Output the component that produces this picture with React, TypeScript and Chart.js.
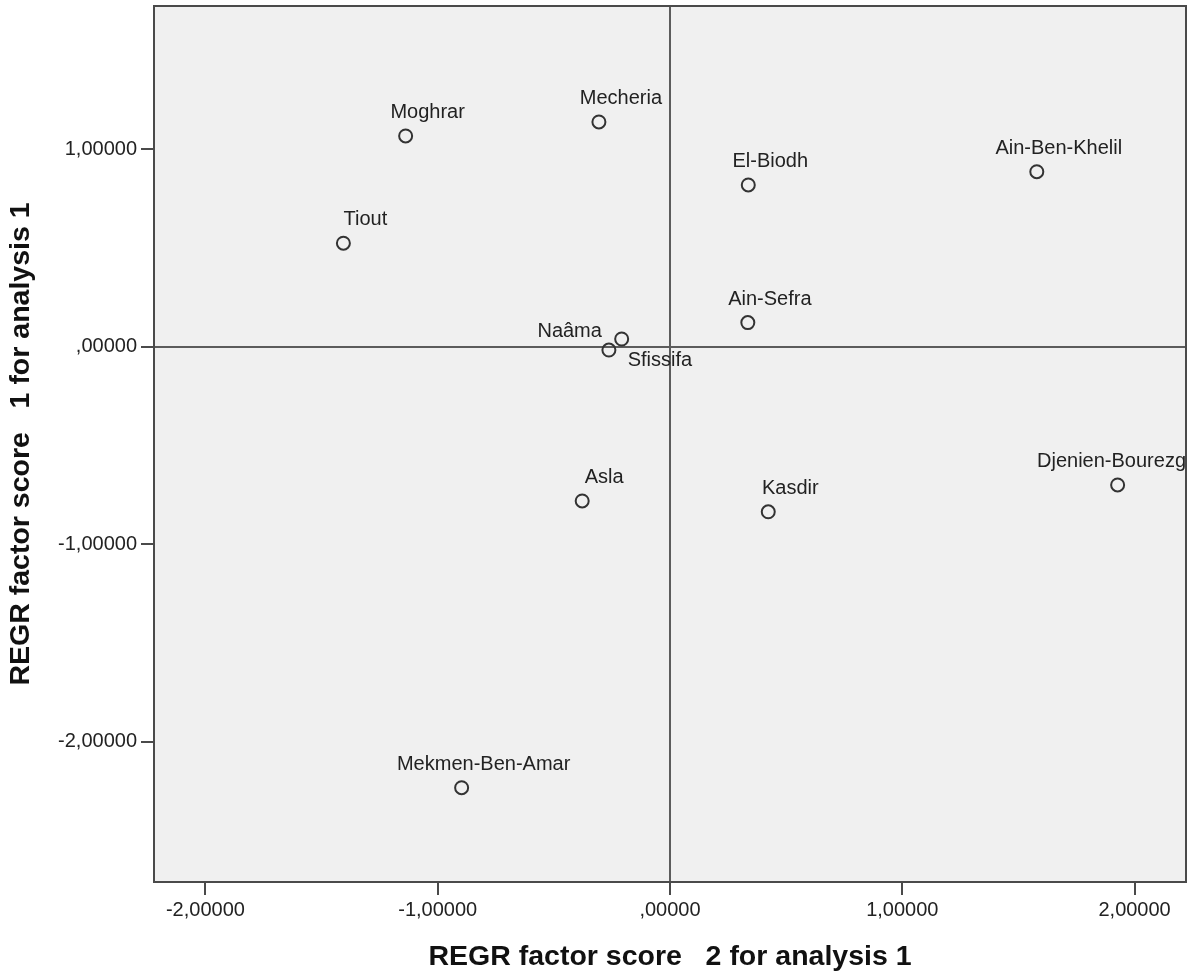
import React, { useEffect, useRef } from "react";
import { Chart, registerables } from "chart.js";

Chart.register(...registerables);

// Sites and their regression factor scores
const sites = [
  "Moghrar",
  "Mecheria",
  "Tiout",
  "El-Biodh",
  "Ain-Sefra",
  "Ain-Ben-Khelil",
  "Djenien-Bourezg",
  "Asla",
  "Kasdir",
  "Mekmen-Ben-Amar",
  "Naâma",
  "Sfissifa",
];
// REGR factor score 2 (horizontal)
const factor2 = [-1.138, -0.306, -1.406, 0.337, 0.335, 1.579, 1.927, -0.378, 0.423, -0.897, -0.263, -0.208];
// REGR factor score 1 (vertical)
const factor1 = [1.066, 1.137, 0.523, 0.818, 0.121, 0.885, -0.701, -0.782, -0.837, -2.234, -0.018, 0.038];

const xTicks = [-2, -1, 0, 1, 2];
const xTickLabels = ["-2,00000", "-1,00000", ",00000", "1,00000", "2,00000"];
const yTicks = [-2, -1, 0, 1];
const yTickLabels = ["-2,00000", "-1,00000", ",00000", "1,00000"];

const xRange = [-2.2213, 2.2213];
const yRange = [-2.7114, 1.7241];

const xTitle = "REGR factor score   2 for analysis 1";
const yTitle = "REGR factor score   1 for analysis 1";

// Labels that sit off to a corner instead of above their marker
const labelSide: Record<string, string> = {
  "Naâma": "upperLeft",
  "Sfissifa": "lowerRight",
};

const FONT = '"Liberation Sans", Arial, sans-serif';
const INK = "#222222";
const FRAME = "#4a4a4a";
const REF_LINE = "#5c5c5c";

const plotFrame = {
  id: "plotFrame",
  beforeDraw(chart: any) {
    const { ctx, chartArea: a } = chart;
    ctx.save();
    ctx.fillStyle = "#f0f0f0";
    ctx.fillRect(a.left, a.top, a.right - a.left, a.bottom - a.top);
    ctx.restore();
  },
  afterDraw(chart: any) {
    const { ctx, chartArea: a } = chart;
    ctx.save();
    ctx.strokeStyle = FRAME;
    ctx.lineWidth = 2;
    ctx.strokeRect(a.left, a.top, a.right - a.left, a.bottom - a.top);
    ctx.restore();
  },
};

const pointLabels = {
  id: "pointLabels",
  afterDatasetsDraw(chart: any) {
    const { ctx, chartArea: a } = chart;
    const meta = chart.getDatasetMeta(0);
    ctx.save();
    ctx.beginPath();
    ctx.rect(a.left, a.top, a.right - a.left, a.bottom - a.top);
    ctx.clip();
    ctx.font = `20px ${FONT}`;
    ctx.fillStyle = INK;
    ctx.textBaseline = "middle";
    meta.data.forEach((pt: any, i: number) => {
      const name = sites[i];
      const w = ctx.measureText(name).width;
      const side = labelSide[name];
      let left: number;
      let cy: number;
      if (side === "upperLeft") {
        left = pt.x - 7 - w;
        cy = pt.y - 19;
      } else if (side === "lowerRight") {
        left = pt.x + 6;
        cy = pt.y + 21;
      } else {
        left = pt.x + 22 - w / 2;
        cy = pt.y - 23.5;
      }
      if (left + w > a.right) left = a.right - w;
      if (left < a.left) left = a.left;
      ctx.textAlign = "left";
      ctx.fillText(name, left, cy);
    });
    ctx.restore();
  },
};

export default function App() {
  const canvasRef = useRef<HTMLCanvasElement | null>(null);

  useEffect(() => {
    if (!canvasRef.current) return;
    const chart = new Chart(canvasRef.current, {
      type: "scatter",
      data: {
        datasets: [
          {
            data: factor2.map((x, i) => ({ x, y: factor1[i] })),
            pointStyle: "circle",
            pointRadius: 6.5,
            pointHoverRadius: 6.5,
            pointBorderWidth: 2,
            pointBorderColor: "#333333",
            pointBackgroundColor: "rgba(0,0,0,0)",
          },
        ],
      },
      options: {
        responsive: false,
        animation: false,
        events: [],
        layout: { autoPadding: false, padding: { top: 6, right: 3, left: 0, bottom: 0 } },
        plugins: {
          legend: { display: false },
          tooltip: { enabled: false },
        },
        scales: {
          x: {
            type: "linear",
            min: xRange[0],
            max: xRange[1],
            afterBuildTicks: (scale: any) => {
              scale.ticks = xTicks.map((value) => ({ value }));
            },
            afterFit: (scale: any) => {
              scale.height = 94;
              scale.paddingLeft = 0;
              scale.paddingRight = 0;
            },
            ticks: {
              autoSkip: false,
              maxRotation: 0,
              padding: 3,
              color: INK,
              font: { family: FONT, size: 20 },
              callback: (value: any) => xTickLabels[xTicks.indexOf(Number(value))] ?? "",
            },
            grid: {
              drawOnChartArea: true,
              color: (c: any) => (c.tick && c.tick.value === 0 ? REF_LINE : "rgba(0,0,0,0)"),
              lineWidth: 2,
              tickColor: FRAME,
              tickLength: 13,
              tickWidth: 2,
            },
            border: { display: false },
            title: {
              display: true,
              text: xTitle,
              color: "#111111",
              font: { family: FONT, size: 28.5, weight: "bold" },
              padding: { top: 0, bottom: 2 },
            },
          },
          y: {
            type: "linear",
            min: yRange[0],
            max: yRange[1],
            afterBuildTicks: (scale: any) => {
              scale.ticks = yTicks.map((value) => ({ value }));
            },
            afterFit: (scale: any) => {
              scale.width = 154;
              scale.paddingTop = 0;
              scale.paddingBottom = 0;
            },
            ticks: {
              autoSkip: false,
              padding: 4,
              color: INK,
              font: { family: FONT, size: 20 },
              callback: (value: any) => yTickLabels[yTicks.indexOf(Number(value))] ?? "",
            },
            grid: {
              drawOnChartArea: true,
              color: (c: any) => (c.tick && c.tick.value === 0 ? REF_LINE : "rgba(0,0,0,0)"),
              lineWidth: 2,
              tickColor: FRAME,
              tickLength: 13,
              tickWidth: 2,
            },
            border: { display: false },
            title: {
              display: true,
              text: yTitle,
              color: "#111111",
              font: { family: FONT, size: 28.5, weight: "bold" },
              padding: { top: 4, bottom: 0 },
            },
          },
        },
      },
      plugins: [plotFrame, pointLabels],
    });
    return () => chart.destroy();
  }, []);

  return (
    <div style={{ position: "absolute", left: 0, top: 0, width: 1189, height: 976, background: "#ffffff" }}>
      <canvas ref={canvasRef} width={1189} height={976} style={{ display: "block" }} />
    </div>
  );
}
